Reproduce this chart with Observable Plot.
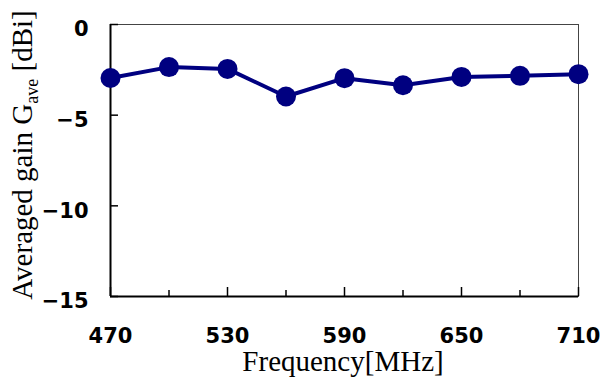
<!DOCTYPE html>
<html>
<head>
<meta charset="utf-8">
<script src="https://cdn.jsdelivr.net/npm/d3@7"></script>
<script src="https://cdn.jsdelivr.net/npm/@observablehq/plot@0.6"></script>
<style>
  html, body { margin: 0; padding: 0; background: #fff; }
  #chart { width: 605px; height: 380px; }
</style>
</head>
<body>
<div id="chart"></div>
<script>
const freq = [470, 500, 530, 560, 590, 620, 650, 680, 710];
const gain = [-2.95, -2.35, -2.45, -3.97, -2.96, -3.35, -2.89, -2.83, -2.74];
const xMajor = [470, 530, 590, 650, 710];
const xMinorTicks = [500, 560, 620, 680];
const yTicks = [0, -5, -10, -15];
const xTitle = "Frequency[MHz]";
const yTitleMain = "Averaged gain G";
const yTitleSub = "ave";
const yTitleUnit = " [dBi]";

const data = freq.map((f, i) => ({ f, g: gain[i] }));
const navy = "#000080";
const tickFont = "'DejaVu Sans', sans-serif";
const serif = "'Liberation Serif', 'Times New Roman', serif";

const chart = Plot.plot({
  width: 605,
  height: 380,
  marginLeft: 110,
  marginRight: 27,
  marginTop: 24,
  marginBottom: 84,
  style: { background: "#fff", color: "#000" },
  x: { domain: [470, 710] },
  y: { domain: [-15, 0] },
  marks: [
    Plot.frame({ stroke: "#444", strokeWidth: 1 }),
    Plot.ruleY([-15], { stroke: "#000", strokeWidth: 2 }),
    Plot.ruleX([470], { stroke: "#000", strokeWidth: 2 }),
    // inward ticks
    Plot.axisX(xMajor, { tickSize: 9, dy: -9, fill: "none", strokeWidth: 1.5 }),
    Plot.axisX(xMinorTicks, { tickSize: 6, dy: -6, fill: "none", strokeWidth: 1.5 }),
    Plot.axisY(yTicks, { tickSize: 8, dx: 8, fill: "none", strokeWidth: 1.5 }),
    // tick labels
    Plot.axisX(xMajor, { tickSize: 0, tickPadding: 32, label: null, fontSize: 21, fontWeight: "bold", fontFamily: tickFont }),
    Plot.axisY(yTicks, { tickSize: 0, tickPadding: 22, dy: 5, label: null, fontSize: 21, fontWeight: "bold", fontFamily: tickFont }),
    // x title
    Plot.text([xTitle], { frameAnchor: "bottom", lineAnchor: "top", dy: 54, dx: -1.5, fontSize: 29, fontFamily: serif, fill: "#000" }),
    // data
    Plot.line(data, { x: "f", y: "g", stroke: navy, strokeWidth: 4 }),
    Plot.dot(data, { x: "f", y: "g", r: 10, fill: navy, stroke: "none" })
  ]
});

document.getElementById("chart").appendChild(chart);

// y title with subscript
const svg = d3.select(chart);
const yt = svg.append("text")
  .attr("transform", "translate(32,155) rotate(-90)")
  .attr("text-anchor", "middle")
  .attr("font-family", serif)
  .attr("font-size", 29)
  .attr("fill", "#000");
yt.append("tspan").text(yTitleMain);
yt.append("tspan").attr("font-size", 18).attr("dy", 6).text(yTitleSub);
yt.append("tspan").attr("dy", -6).text(yTitleUnit);
</script>
</body>
</html>
